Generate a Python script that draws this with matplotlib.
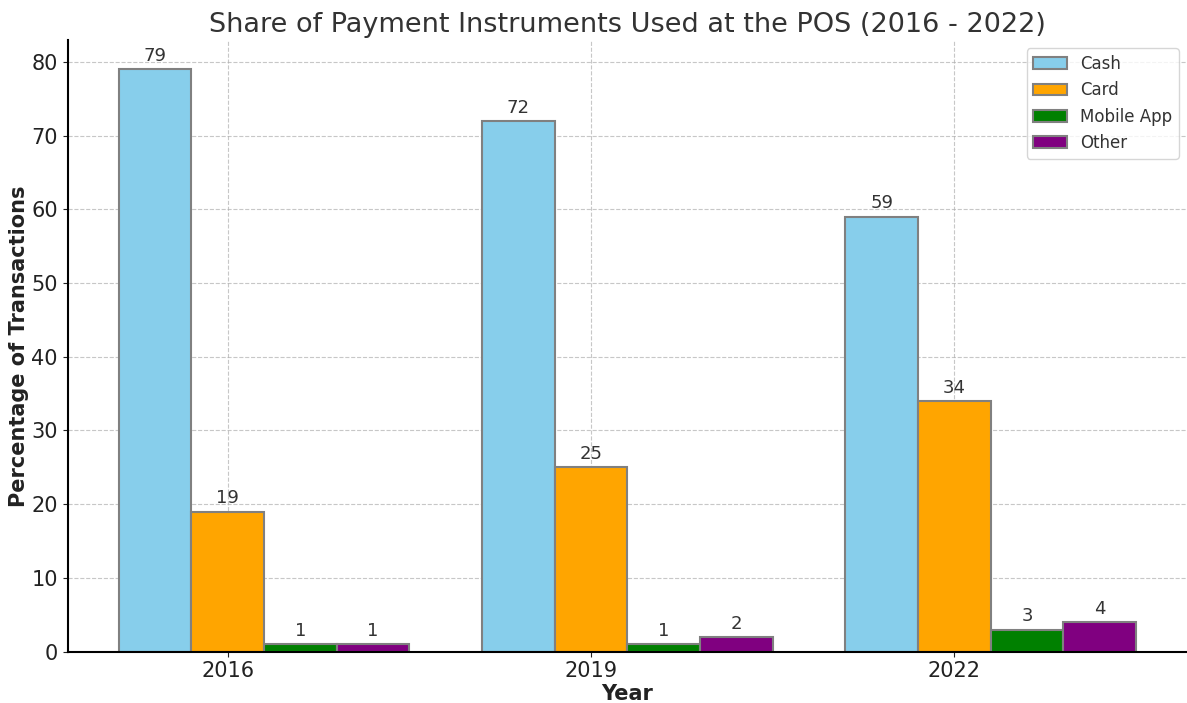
import matplotlib.pyplot as plt
import numpy as np

years = ['2016', '2019', '2022']
instruments = ['Cash', 'Card', 'Mobile App', 'Other']
cash = [79, 72, 59]
card = [19, 25, 34]
mobile = [1, 1, 3]
other = [1, 2, 4]
colors = ['skyblue', 'orange', 'green', 'purple']

x = np.arange(len(years))
w = 0.2

fig, ax = plt.subplots(figsize=(11.87, 7.03), dpi=100)
series = [cash, card, mobile, other]
for i, (vals, name, c) in enumerate(zip(series, instruments, colors)):
    bars = ax.bar(x + (i - 1) * w, vals, w, label=name, color=c,
                  edgecolor='grey', linewidth=1.5)
    for b in bars:
        ax.annotate(str(int(b.get_height())),
                    (b.get_x() + b.get_width() / 2, b.get_height()),
                    xytext=(0, 3), textcoords='offset points',
                    ha='center', va='bottom', fontsize=13, color='#333333')

ax.set_title('Share of Payment Instruments Used at the POS (2016 - 2022)',
             fontsize=19.5, color='#333333')
ax.set_xlabel('Year', fontsize=15, fontweight='bold', color='#222222', labelpad=2)
ax.set_ylabel('Percentage of Transactions', fontsize=15, fontweight='bold',
              color='#222222', labelpad=2)
ax.set_xticks(x)
ax.set_xticklabels(years)
ax.tick_params(labelsize=15, colors='#222222')
ax.grid(True, linestyle='--', alpha=0.7)
ax.set_axisbelow(True)
ax.spines['top'].set_visible(False)
ax.spines['right'].set_visible(False)
ax.spines['left'].set_linewidth(1.5)
ax.spines['bottom'].set_linewidth(1.5)
leg = ax.legend(fontsize=12, loc='upper right')
for t in leg.get_texts():
    t.set_color('#333333')

plt.subplots_adjust(left=0.057, right=1.0, bottom=0.073, top=0.943)
plt.savefig('out.png')
